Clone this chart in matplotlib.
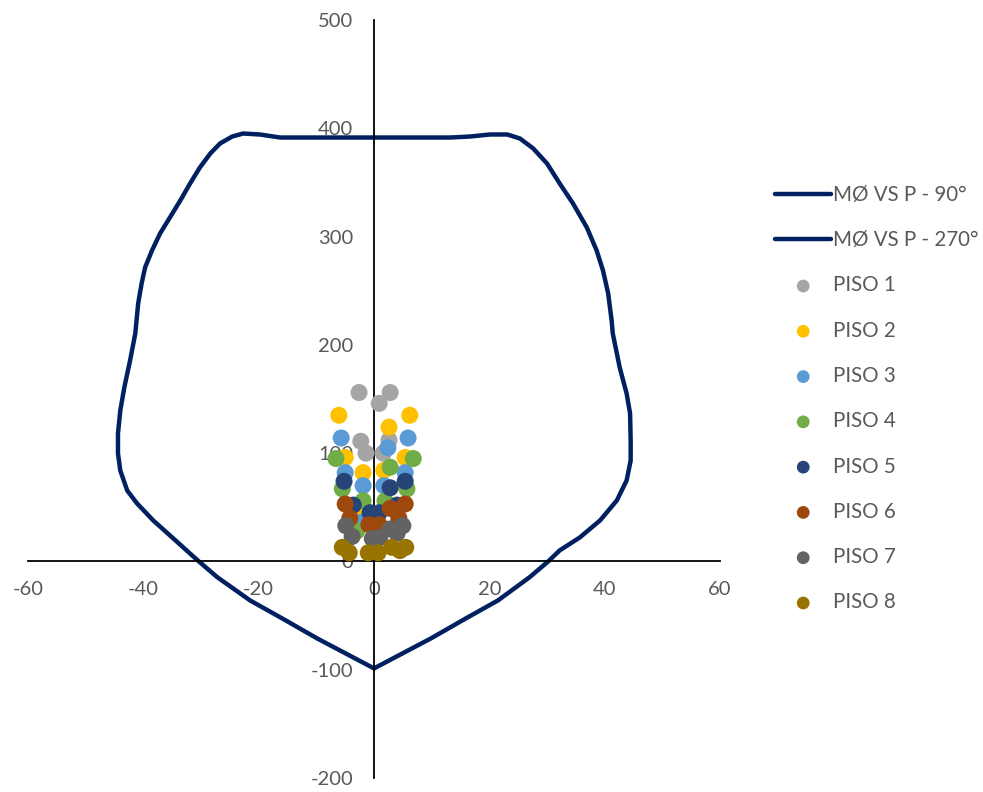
import matplotlib
matplotlib.use('Agg')
import matplotlib.pyplot as plt

# ── Envelope curves (M, P) ──────────────────────────────────────────────────
env90_m = [0, -12.8, -16.3, -19.8, -22.7, -24.6, -26.7, -28.4, -30.2, -31.9,
           -33.6, -35.4, -37.1, -38.5, -39.7, -40.3, -40.9, -41.4, -42.3,
           -43.3, -44.0, -44.4, -44.4, -44.0, -42.8, -41.1, -38.3, -34.8,
           -30.7, -27.2, -21.5, -15.8, -9.9, -4.2, 0]
env90_p = [391.5, 391.5, 391.5, 394.3, 395.2, 392.4, 386, 376.7, 363.8, 349,
           333.3, 317.6, 302.9, 287.2, 271.5, 256.7, 238.2, 210.5, 185.6,
           160.7, 139.4, 118.2, 99.7, 84, 65.5, 53.6, 37.9, 21.2,
           1.5, -14.5, -36, -53, -71, -87, -98.8]

env270_m = [0, 13.2, 16.6, 20.1, 23.1, 25.3, 27.6, 30.0, 32.2, 34.5, 36.9,
            38.6, 39.7, 40.6, 41.2, 41.4, 42.6, 43.8, 44.4, 44.5, 44.5, 43.8,
            42.1, 39.2, 35.7, 32.2, 30.2, 27.0, 21.5, 15.8, 9.9, 4.2, 0]
env270_p = [391.5, 391.5, 392.4, 394.3, 394.3, 390.6, 381.4, 367.5, 349,
            330.6, 308.4, 287.2, 268.7, 247.5, 222.5, 210.5, 179.1, 155.1,
            136.7, 111.7, 93.2, 74.8, 56.3, 37.9, 22.2, 10.2, 0, -14.5, -36,
            -53, -71, -87, -98.8]

# ── Floor points (M, P) ─────────────────────────────────────────────────────
piso_labels = ['PISO 1', 'PISO 2', 'PISO 3', 'PISO 4',
               'PISO 5', 'PISO 6', 'PISO 7', 'PISO 8']
piso_m = [
    [-2.6, 2.8, 0.9, -2.3, 2.6, -1.4, 1.6],
    [-6.1, 6.2, 2.6, -5.0, 5.4, -1.9, 1.7, -2.8, 2.4],
    [-5.7, 5.9, 2.4, -5.0, 5.4, -1.9, 1.7, -2.4],
    [-6.6, 6.8, 2.8, -5.5, 5.7, -1.9, 1.9, -3.0],
    [-5.2, 5.4, 2.8, -3.6, 4.0, -0.7, 0.9],
    [-5.0, 5.4, 2.8, -4.2, 4.3, -0.9, 0.9],
    [-4.9, 5.0, 2.8, -3.8, 4.0, -0.3, 1.0],
    [-5.5, 5.5, 3.1, -4.3, 4.5, -1.0, 0.7],
]
piso_p = [
    [156, 156, 146, 111, 112, 100, 100],
    [135, 135, 124, 96, 96, 82, 84, 47, 52],
    [114, 114, 105, 82, 82, 70, 70, 36],
    [95, 95, 87, 67, 67, 56, 56, 28],
    [74, 74, 68, 52, 52, 45, 45],
    [53, 53, 49, 40, 40, 34, 34],
    [33, 33, 30, 23, 26, 21, 22],
    [13, 13, 13, 8, 10, 8, 8],
]
piso_colors = ['#A5A5A5', '#FFC000', '#5B9BD5', '#70AD47',
               '#264478', '#9E480E', '#636363', '#997300']

plt.rcParams['font.family'] = ['Lato', 'DejaVu Sans']
plt.rcParams['axes.unicode_minus'] = False
TXT = '#595959'
NAVY = '#002060'

fig = plt.figure(figsize=(9.83, 7.92), dpi=100)
ax = fig.add_axes([0.0285, 0.0177, 0.7040, 0.9570])

ax.plot(env90_m, env90_p, color=NAVY, lw=3.2, label='MØ VS P - 90°',
        solid_capstyle='round', solid_joinstyle='round')
ax.plot(env270_m, env270_p, color=NAVY, lw=3.2, label='MØ VS P - 270°',
        solid_capstyle='round', solid_joinstyle='round')
for xs, ys, c, lab in zip(piso_m, piso_p, piso_colors, piso_labels):
    ax.scatter(xs, ys, s=150, color=c, edgecolors='none', label=lab, zorder=3)

ax.set_xlim(-60, 60)
ax.set_ylim(-200, 500)
ax.set_xticks(range(-60, 61, 20))
ax.set_yticks(range(-200, 501, 100))

for s in ['top', 'right']:
    ax.spines[s].set_visible(False)
ax.spines['left'].set_position(('data', 0))
ax.spines['bottom'].set_position(('data', 0))
for s in ['left', 'bottom']:
    ax.spines[s].set_color('black')
    ax.spines[s].set_linewidth(1.3)
ax.tick_params(axis='both', length=0, labelsize=14.5, labelcolor=TXT)
ax.tick_params(axis='x', pad=14)
ax.tick_params(axis='y', pad=15)
ax.set_facecolor('none')

leg = fig.legend(loc='upper left', bbox_to_anchor=(0.780, 0.777),
                 frameon=False, fontsize=14.8, labelspacing=1.23,
                 handlelength=2.75, handletextpad=0.05, markerscale=0.75,
                 borderaxespad=0)
for t in leg.get_texts():
    t.set_color(TXT)

fig.savefig('out.png', dpi=100, facecolor='white')
